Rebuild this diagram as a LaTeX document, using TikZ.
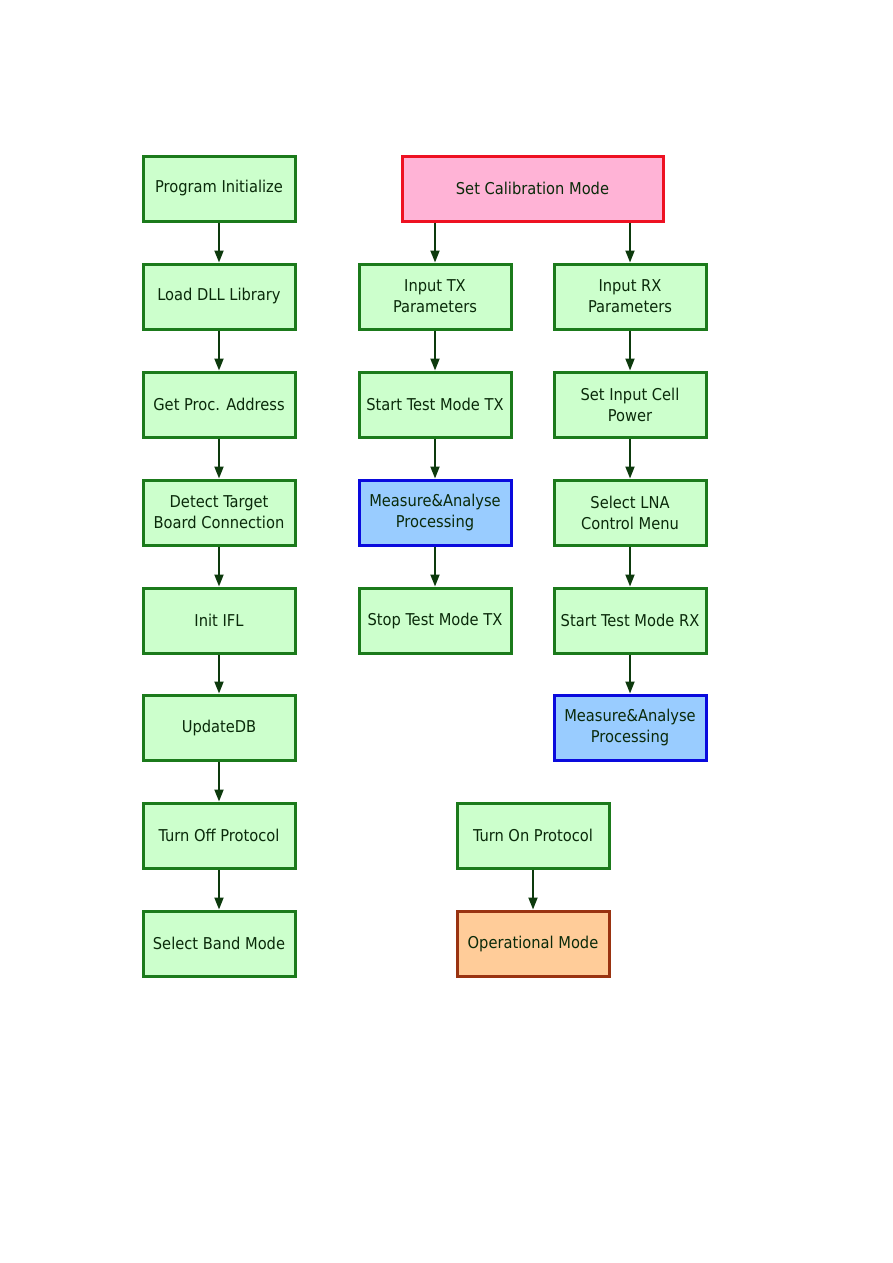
\documentclass[tikz,border=0pt]{standalone}
\usepackage{fontspec}
\setmainfont{DejaVu Sans Condensed}
\usetikzlibrary{arrows.meta}
\definecolor{gfill}{HTML}{CCFFCC}
\definecolor{gdraw}{HTML}{1B7A1B}
\definecolor{bfill}{HTML}{99CCFF}
\definecolor{bdraw}{HTML}{0A0ADD}
\definecolor{pfill}{HTML}{FFB3D6}
\definecolor{pdraw}{HTML}{EE1122}
\definecolor{ofill}{HTML}{FFCC99}
\definecolor{odraw}{HTML}{993311}
\definecolor{txt}{HTML}{0A2A0A}
\definecolor{arr}{HTML}{0D3A0D}
\tikzset{
  box/.style={draw=gdraw, fill=gfill, line width=3pt, minimum width=152pt, minimum height=65pt,
    text=txt, align=center, inner sep=0pt, font=\fontsize{16.3}{21}\selectfont},
  bluebox/.style={box, draw=bdraw, fill=bfill},
  pinkbox/.style={box, draw=pdraw, fill=pfill, minimum width=261pt},
  orangebox/.style={box, draw=odraw, fill=ofill},
  conn/.style={draw=arr, line width=1.8pt, -{Triangle[length=12pt,width=9pt]}}
}
\begin{document}
\begin{tikzpicture}[x=1pt,y=-1pt]
\useasboundingbox (0,0) rectangle (893,1263);
% left column
\node[box] (l1) at (219,188.5) {Program Initialize};
\node[box] (l2) at (219,296.5) {Load DLL Library};
\node[box] (l3) at (219,404.5) {Get Proc. Address};
\node[box] (l4) at (219,512.5) {Detect Target\\Board Connection};
\node[box] (l5) at (219,620.5) {Init IFL};
\node[box] (l6) at (219,727.5) {UpdateDB};
\node[box] (l7) at (219,835.5) {Turn Off Protocol};
\node[box] (l8) at (219,943.5) {Select Band Mode};
% calibration
\node[pinkbox] (cal) at (532.5,188.5) {Set Calibration Mode};
% TX column
\node[box] (t1) at (435,296.5) {Input TX\\Parameters};
\node[box] (t2) at (435,404.5) {Start Test Mode TX};
\node[bluebox] (t3) at (435,512.5) {Measure\&Analyse\\Processing};
\node[box] (t4) at (435,620.5) {Stop Test Mode TX};
% RX column
\node[box] (r1) at (630,296.5) {Input RX\\Parameters};
\node[box] (r2) at (630,404.5) {Set Input Cell\\Power};
\node[box] (r3) at (630,512.5) {Select LNA\\Control Menu};
\node[box] (r4) at (630,620.5) {Start Test Mode RX};
\node[bluebox] (r5) at (630,727.5) {Measure\&Analyse\\Processing};
% protocol
\node[box] (p1) at (533,835.5) {Turn On Protocol};
\node[orangebox] (p2) at (533,943.5) {Operational Mode};
% connectors
\foreach \a/\b in {l1/l2,l2/l3,l3/l4,l4/l5,l5/l6,l6/l7,l7/l8,t1/t2,t2/t3,t3/t4,r1/r2,r2/r3,r3/r4,r4/r5,p1/p2}
  \draw[conn] (\a.south) -- (\b.north);
\draw[conn] (cal.south -| t1.north) -- (t1.north);
\draw[conn] (cal.south -| r1.north) -- (r1.north);
\end{tikzpicture}
\end{document}
